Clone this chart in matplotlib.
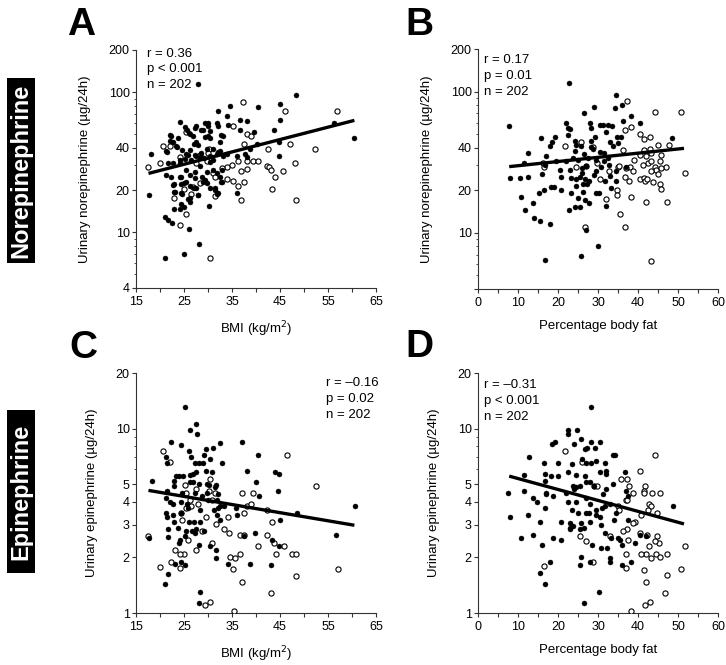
import matplotlib.pyplot as plt
from matplotlib.ticker import FixedLocator, LogLocator, NullFormatter
from matplotlib.patches import Rectangle

plt.rcParams['font.family'] = ['Liberation Sans', 'DejaVu Sans']

# Panel A: BMI vs urinary norepinephrine (filled / open subjects)
a_filled = [(28, 115), (48.4, 95), (45, 82), (34.6, 80), (40.4, 78), (32.1, 73), (45, 63), (56.3, 60),
            (34, 68), (36.7, 63), (24.1, 61), (25.3, 56), (29.3, 60), (27.6, 57), (30, 57), (32.1, 57),
            (30.4, 53), (26.9, 49), (26.2, 50), (28.5, 54), (30, 49), (22.3, 49), (23.7, 47), (33.2, 49),
            (39.5, 52), (43.8, 54), (38.1, 62), (60.5, 47), (22, 45), (23.4, 41), (21.3, 38), (18.1, 36),
            (17.7, 18.4), (40.2, 43), (44.7, 44), (37.7, 36), (44.7, 35), (36, 35), (31.8, 36), (33.9, 36),
            (31, 39), (32.5, 38), (25.5, 36), (27.6, 35), (28.6, 37), (29.1, 34), (30.4, 35), (26.5, 33),
            (24.1, 31), (22.7, 31), (21.6, 31), (21.3, 25.6), (22.3, 24.6), (24.4, 25), (25.5, 28),
            (27.2, 27), (28.3, 29.5), (29.7, 27), (31, 28), (32.5, 25), (32.9, 28), (23, 22), (23, 19.5),
            (24.4, 22), (25.5, 23), (24.4, 19), (26.2, 21.3), (27.6, 20.6), (27.9, 18.5), (29, 23),
            (29.7, 22.3), (30.4, 20.6), (31.4, 20), (32.1, 19), (32.9, 23), (24.4, 15.9), (24.1, 14.6),
            (23, 14.6), (26.2, 16.5), (26.2, 17.5), (30.2, 15.5), (36, 19), (21.1, 12.9), (21.6, 12.3),
            (22.6, 11.7), (26, 10.5), (28.1, 8.2), (21.1, 6.6), (25, 7.0),
            (25.6, 53.6), (26.1, 50.8), (27.3, 55.1), (29, 53.6), (30.1, 59.9), (29.4, 48), (30.4, 46.7),
            (27, 43), (27.6, 44.2), (28, 41.8), (26.2, 38.5), (25.9, 35.5), (25.2, 33.6), (24.2, 32.7),
            (29.7, 39.6), (32.1, 37.4), (32.5, 44.2), (32.8, 49.4), (31.8, 59.9), (34.2, 58.2),
            (36.7, 53.6), (22.1, 49.4), (22.8, 44.2), (23.5, 40.6), (21.5, 37.4), (24.5, 38.5),
            (27.3, 35.5), (28.3, 34.5), (30.4, 31.7), (31.1, 32.7), (33.2, 34.9), (38.1, 34.5),
            (38.8, 39.6), (24.2, 24.9), (26.2, 25.6), (27.3, 24.2), (28.7, 24.9), (29.4, 23.6),
            (31.8, 26.3), (32.8, 22.9), (22.8, 21.7), (24.9, 22.3), (27, 20.6), (28, 18.4), (23.1, 19.5),
            (24.5, 18.6), (25.9, 17.4), (24.9, 15.2), (31.5, 20.6), (31.8, 18.9)]
a_open = [(37.2, 85), (46.1, 73), (56.8, 73), (35.3, 57), (38.1, 50), (38.9, 49), (47, 43), (52.2, 39),
          (42.4, 39.5), (37.6, 43), (20.6, 41.5), (22, 41), (17.6, 29), (19.9, 31), (48.2, 31),
          (30.2, 39.5), (38.1, 32), (39.3, 32.5), (40.4, 32.5), (36.3, 32), (34.9, 30), (33.9, 29.4),
          (32.9, 28.7), (36.8, 27.5), (38.1, 28.1), (42.2, 29.6), (42.8, 29.4), (43.1, 28), (45.6, 27.2),
          (44, 25), (33.9, 24), (35.3, 23.2), (37.4, 23), (36.3, 21.5), (43.3, 20.4), (36.8, 16.9),
          (48.3, 16.9), (26.5, 18.9), (23, 17.5), (31.4, 18), (25.5, 13.6), (24.1, 11.2), (30.4, 6.5),
          (28.3, 22.5), (25.1, 20.4), (26.9, 21), (31, 26.5), (30, 36.7), (28.3, 35.5), (25.5, 52),
          (24.1, 34.7), (29.7, 32.5), (31.4, 25), (27.6, 31)]
a_fit_x = [17.6, 60.5]
a_fit_y = [26.3, 62.9]

# Panel B: percentage body fat vs urinary norepinephrine
b_filled = [(7.7, 57), (7.9, 24.3), (10.4, 24.6), (11.4, 31), (12.5, 37), (12.5, 25), (10.7, 18), (11.8, 14.5),
            (13.8, 16.2), (14, 12.7), (15.4, 12.1), (18.1, 11.6), (16.7, 6.4), (15.8, 47), (15.3, 19.2),
            (16.5, 20), (16.1, 26), (16.7, 30), (17.1, 35), (17.9, 41), (18.6, 44), (19.2, 48), (18.3, 21),
            (18.9, 21), (19.6, 32), (20.4, 28), (20.8, 25), (20.8, 20), (22.1, 32), (21.9, 60), (22.5, 55),
            (22.8, 115), (23.1, 54), (22.5, 49), (22.9, 28), (22.8, 14.5), (23.8, 34), (23.3, 24.5),
            (23.3, 19.2), (24.2, 45), (24.6, 42), (24.2, 38), (25, 32.5), (24.6, 24), (24.6, 21.6),
            (25, 17.5), (24.2, 15.3), (25.4, 15.3), (25.8, 6.8), (26.4, 71), (25.8, 41), (26.1, 28.6),
            (26.1, 26.5), (26.3, 22.3), (26.3, 19.6), (26.7, 17.2), (27.1, 10.4), (27.8, 16.2), (27.5, 34),
            (27.8, 23.3), (28.3, 55), (28.3, 45), (28.8, 39.5), (29, 78), (27.9, 60), (28.3, 40.6),
            (29.4, 27.6), (29.6, 19), (30.3, 19.2), (30, 8.1), (29.2, 48), (30.4, 58), (30.6, 37.5),
            (31.3, 58), (31.4, 36.6), (31.7, 23.3), (32.1, 52), (32.5, 58), (31.9, 15.5), (32.8, 30),
            (32.9, 44), (33.1, 25.2), (33.3, 20.6), (33.8, 41), (33.6, 57), (34.2, 76), (34.6, 23.3),
            (34.4, 95), (34.8, 48), (35, 43), (35.8, 48), (36.3, 62), (36, 80), (37.1, 29.3), (38.3, 67),
            (40.4, 60), (48.6, 47), (34.6, 27.5), (26.8, 24), (27.2, 22), (25.5, 25), (28.9, 25.5),
            (30.8, 29), (31.5, 32), (32.4, 34), (27, 29.5), (29.5, 33), (26.5, 36)]
b_open = [(37.3, 85), (44.2, 72), (50.7, 72), (38.3, 56), (36.8, 53), (40.4, 50), (41.4, 46), (43, 48),
          (44.9, 42), (47.7, 42), (21.7, 41), (25.8, 44), (28.8, 40.5), (36.3, 38.5), (40.4, 35.6),
          (41.6, 38.5), (42.9, 39.5), (43.3, 36.5), (45.8, 35.6), (42.1, 34.7), (42.5, 31), (43.3, 32),
          (41.2, 30.3), (45.6, 32), (47.1, 29.4), (45.8, 28.7), (44.2, 29), (44.6, 28), (43.3, 27.2),
          (38.9, 32.5), (38.1, 29.3), (37.1, 28.6), (35, 29.4), (38.8, 27.4), (40.4, 24), (41.6, 24.6),
          (41.8, 23.4), (42.2, 24), (44.9, 26), (45.4, 22), (43.8, 22.8), (45.8, 20.3), (51.7, 26.7),
          (37.8, 23.4), (36.8, 25), (35.3, 29.7), (29.8, 31), (24.6, 29), (26.9, 29.5), (30.4, 24),
          (32.1, 17.4), (34.8, 20.2), (34.8, 18.6), (38.3, 18), (42.1, 16.4), (47.3, 16.4), (35.4, 13.6),
          (26.8, 11), (36.7, 11), (43.2, 6.3), (16.2, 31), (16.4, 29), (32.7, 27.5)]
b_fit_x = [7.8, 51.5]
b_fit_y = [29.4, 39.6]

# Panel C: BMI vs urinary epinephrine
c_filled = [(25.3, 13.1), (27.4, 10.6), (26.3, 9.8), (27.7, 9.3), (22.3, 8.4), (24.4, 8.1), (37, 8.5),
            (32.5, 8.3), (29.5, 7.7), (31, 7.8), (26, 7.6), (26.5, 7), (29.1, 7.2), (30.5, 6.8), (40.5, 7.2),
            (21.3, 7), (21.4, 6.5), (33, 6.5), (27.2, 6.5), (28.2, 6.5), (28.9, 6.5), (29.5, 5.9),
            (30.8, 5.8), (27.6, 5.8), (26.2, 5.6), (26.9, 5.7), (38.1, 5.9), (44, 5.8), (44.7, 5.7),
            (23.3, 5.5), (24, 5.5), (24.7, 5.5), (22.9, 5.2), (23, 4.9), (18.3, 5.2), (26.2, 5.1),
            (26.9, 5.1), (28.2, 5), (29.7, 5), (30.3, 4.97), (31.4, 4.8), (31.6, 4.97), (40, 5.1),
            (21.4, 4.6), (24.6, 4.5), (27.2, 4.5), (29.7, 4.5), (32.1, 4.4), (40.7, 4.3), (44.5, 4.6),
            (21.2, 4.2), (24.4, 4), (28.8, 4.3), (30, 4.1), (31.9, 4.1), (22.1, 4), (22.8, 3.9), (25.6, 3.9),
            (25.8, 3.7), (31.3, 3.6), (32.1, 3.7), (32.5, 3.8), (33.3, 3.8), (21.3, 3.5), (22.7, 3.4),
            (24.4, 3.5), (28.3, 3.6), (31.9, 3.4), (36.1, 3.4), (48.6, 3.5), (60.6, 3.8), (21.5, 3.3),
            (23, 3.1), (26, 3.1), (27, 3.1), (28.3, 3.1), (32.5, 3.2), (45, 3.2), (21.6, 2.86), (23.7, 2.9),
            (25.5, 2.8), (26.7, 2.8), (27.5, 2.85), (29.2, 2.8), (21.6, 2.57), (17.7, 2.55), (24.1, 2.5),
            (25.3, 2.6), (27.2, 2.7), (37.6, 2.6), (39.8, 2.7), (56.6, 2.65), (43.3, 2.5), (44.7, 2.3),
            (30.4, 2.3), (28.1, 2.35), (31.6, 2.2), (24, 2.4), (23.2, 1.85), (25.3, 1.82), (24.4, 1.9),
            (34.2, 1.85), (38.8, 1.85), (43.1, 1.82), (21.6, 1.62), (21.1, 1.43), (28.3, 1.3), (28.1, 1.13),
            (31.6, 1.98), (35.8, 3.7)]
c_open = [(20.6, 7.6), (22, 6.6), (46.5, 7.2), (52.4, 4.9), (30.4, 5.3), (25.3, 4.97), (27.6, 4.7),
          (30.3, 4.6), (31.4, 4.5), (37, 4.5), (39.3, 4.5), (25.5, 4.5), (26.2, 4.1), (26.5, 3.8),
          (27.9, 3.9), (30.9, 4.1), (38.1, 3.8), (38.9, 3.9), (24.4, 3.5), (24.6, 3.2), (25.5, 3.7),
          (37.4, 3.5), (34.1, 3.3), (43.3, 3.1), (42.3, 3.6), (31.6, 3.03), (29.5, 3.3), (33.3, 2.85),
          (34.3, 2.7), (36.6, 2.65), (37.6, 2.65), (42.3, 2.65), (43.7, 2.4), (45.8, 2.3), (17.6, 2.6),
          (25.8, 2.5), (28.8, 2.8), (30.8, 2.4), (23.2, 2.2), (25.1, 2.1), (40.5, 2.3), (36.6, 2.1),
          (44.1, 2.1), (47.4, 2.1), (48.3, 2.1), (34.6, 2), (35.6, 1.98), (19.9, 1.78), (22.2, 1.89),
          (24.1, 1.75), (35.3, 1.73), (57.1, 1.74), (48.4, 1.58), (37, 1.48), (43.1, 1.29), (29.3, 1.1),
          (30.5, 1.15), (35.4, 1.03), (24.1, 2.1), (27.6, 2.2)]
c_fit_x = [17.6, 60.5]
c_fit_y = [4.62, 2.99]

# Panel D: percentage body fat vs urinary epinephrine
d_filled = [(28.2, 13.1), (22.5, 9.8), (22.5, 9.3), (24.8, 9.8), (25.7, 8.8), (28.2, 8.5), (30.4, 8.4),
            (18.5, 8.2), (19.2, 8.4), (24, 8.2), (26.7, 7.7), (27.3, 7.8), (29.3, 7.8), (33.8, 7.2),
            (34.3, 7.2), (12.7, 7), (16.5, 6.5), (20, 6.5), (23.5, 6.4), (26.1, 6.8), (26.9, 6.5),
            (28.2, 6.5), (29.6, 6.7), (31.7, 6.5), (32.1, 5.9), (32.1, 5.7), (36.7, 5.8), (22.5, 5.8),
            (16.7, 5.7), (26.7, 5.5), (24.6, 5.6), (30.4, 5.8), (11.5, 5.6), (18.3, 5.5), (20, 5.5),
            (16.8, 5.2), (23.8, 4.9), (24, 4.7), (24.6, 4.8), (25.4, 4.9), (26.9, 5.1), (27.9, 5.1),
            (28.9, 4.9), (32.1, 4.7), (33.8, 5), (37.1, 4.6), (37.5, 4.3), (11.4, 4.6), (7.5, 4.5),
            (17.1, 4.5), (17.1, 4.4), (22.1, 4.5), (13.8, 4.2), (14.8, 4), (18.8, 4.3), (22.5, 4),
            (24.6, 4), (27.1, 4.2), (27.9, 3.9), (31.3, 4.4), (31.8, 3.8), (33.1, 3.9), (34.6, 3.5),
            (25, 3.5), (27.1, 3.5), (27.7, 3.5), (29.4, 3.6), (16.7, 3.7), (23.5, 3.6), (29.6, 3.4),
            (30.4, 3.3), (31, 3.7), (12.5, 3.4), (7.9, 3.3), (15.4, 3.1), (20.7, 3.1), (23.1, 3.07),
            (25.8, 3.07), (30.8, 3), (34, 3.2), (37.5, 3.2), (23.1, 2.9), (25.4, 2.85), (28, 3.1),
            (13.8, 2.65), (10.7, 2.55), (16, 2.35), (18.8, 2.55), (20.8, 2.5), (23, 2.85), (23.8, 2.95),
            (26.4, 2.9), (31.7, 2.7), (33.3, 2.55), (35, 2.55), (35.4, 2.5), (39.2, 2.4), (40.4, 2.65),
            (41.9, 2.6), (28.6, 2.35), (30.7, 2.25), (32.2, 2.25), (36, 2.35), (25.8, 2), (27.9, 1.9),
            (25.6, 1.82), (33.1, 1.98), (33.1, 1.9), (36.1, 1.82), (38.3, 1.9), (17.9, 1.89), (15.4, 1.64),
            (16.7, 1.43), (30.2, 1.3), (26.5, 1.13), (48.8, 3.8)]
d_open = [(44.2, 7.2), (40.4, 5.9), (26, 6.6), (21.7, 7.6), (35.8, 5.3), (37.3, 5.3), (41.8, 4.9),
          (41.6, 4.6), (41.6, 4.5), (43.4, 4.5), (45.6, 4.5), (38.8, 4.5), (37, 4.1), (37.2, 4.1),
          (42.8, 3.9), (43.3, 3.8), (35, 3.8), (42.5, 3.6), (44.7, 3.5), (40.7, 3.4), (39.2, 3.1),
          (38.8, 3.07), (37.3, 2.85), (36.3, 2.8), (37.5, 2.5), (40.4, 2.7), (42.2, 2.65), (44.8, 2.6),
          (45.2, 2.4), (44.2, 2.45), (42.8, 2.3), (51.7, 2.3), (42.1, 2.1), (43.3, 1.98), (44.6, 2.1),
          (45.4, 2), (47.3, 2.1), (40.7, 2.1), (37, 2.1), (37, 1.75), (41.4, 1.72), (50.7, 1.74),
          (47.2, 1.6), (41.9, 1.48), (46.7, 1.29), (43, 1.15), (41.8, 1.1), (38.3, 1.03), (16.4, 1.8),
          (28.8, 1.9), (25.4, 2.6), (26.9, 2.45), (32.9, 2.6), (35.2, 3.6), (29, 4.9), (29.8, 4.9),
          (37.8, 4.9)]
d_fit_x = [7.8, 51.5]
d_fit_y = [5.52, 3.04]

stats_a = ['r = 0.36', 'p < 0.001', 'n = 202']
stats_b = ['r = 0.17', 'p = 0.01', 'n = 202']
stats_c = ['r = \u20130.16', 'p = 0.02', 'n = 202']
stats_d = ['r = \u20130.31', 'p < 0.001', 'n = 202']

ne_ticks = [4, 10, 20, 40, 100, 200]
e_ticks = [1, 2, 3, 4, 5, 10, 20]
bmi_ticks = [15, 25, 35, 45, 55, 65]
fat_ticks = [0, 10, 20, 30, 40, 50, 60]

W, H = 726, 665
fig = plt.figure(figsize=(W / 100, H / 100), dpi=100)


def px_axes(left, top, right, bottom):
    return fig.add_axes([left / W, 1 - bottom / H, (right - left) / W, (bottom - top) / H])


def draw_panel(ax, filled, opened, fit_x, fit_y, xlim, xticks, ylim, yticks, xlabel, ylabel,
               stats, sx, sy):
    fx, fy = zip(*filled)
    ox, oy = zip(*opened)
    ax.scatter(ox, oy, s=14, facecolors='white', edgecolors='black', linewidths=0.8, zorder=3)
    ax.scatter(fx, fy, s=13, c='black', edgecolors='black', linewidths=0.3, zorder=3)
    ax.plot(fit_x, fit_y, color='black', lw=2.4, solid_capstyle='butt', zorder=4)

    ax.set_yscale('log')
    ax.set_ylim(*ylim)
    ax.set_xlim(*xlim)
    ax.yaxis.set_major_locator(FixedLocator(yticks))
    ax.set_yticklabels([str(t) for t in yticks])
    ax.yaxis.set_minor_locator(LogLocator(base=10, subs=range(1, 10)))
    ax.yaxis.set_minor_formatter(NullFormatter())
    ax.xaxis.set_major_locator(FixedLocator(xticks))
    ax.set_xticklabels([str(t) for t in xticks])
    ax.xaxis.set_minor_locator(FixedLocator([t + 5 for t in xticks[:-1]]))

    for side in ['top', 'right']:
        ax.spines[side].set_visible(False)
    for side in ['left', 'bottom']:
        ax.spines[side].set_linewidth(0.8)
        ax.spines[side].set_color('#333333')
    ax.tick_params(axis='both', which='major', length=3, width=0.8, color='#333333',
                   labelsize=9, pad=1.5)
    ax.tick_params(axis='y', which='minor', length=1.6, width=0.6, color='#333333')
    ax.tick_params(axis='x', which='minor', length=3, width=0.8, color='#333333')
    ax.tick_params(axis='x', which='major', pad=3)
    ax.set_xlabel(xlabel, fontsize=9.5, labelpad=8)
    ax.set_ylabel(ylabel, fontsize=9.5, labelpad=13)
    ax.set_facecolor('none')

    for i, line in enumerate(stats):
        ax.text(sx, sy - i * 16 / 240, line, transform=ax.transAxes, fontsize=9.5,
                ha='left', va='center')


ax_a = px_axes(136, 50, 376, 288)
ax_b = px_axes(478, 49, 718, 289)
ax_c = px_axes(136, 373, 376, 613)
ax_d = px_axes(478, 373, 718, 613)

ne_label = 'Urinary norepinephrine (\u00b5g/24h)'
e_label = 'Urinary epinephrine (\u00b5g/24h)'
bmi_label = 'BMI (kg/m$^2$)'
fat_label = 'Percentage body fat'

draw_panel(ax_a, a_filled, a_open, a_fit_x, a_fit_y, (15, 65), bmi_ticks, (4, 200), ne_ticks,
           bmi_label, ne_label, stats_a, 0.046, 0.985)
draw_panel(ax_b, b_filled, b_open, b_fit_x, b_fit_y, (0, 60), fat_ticks, (4, 200), ne_ticks,
           fat_label, ne_label, stats_b, 0.025, 0.955)
ax_b.set_yticklabels(['', '10', '20', '40', '100', '200'])
draw_panel(ax_c, c_filled, c_open, c_fit_x, c_fit_y, (15, 65), bmi_ticks, (1, 20), e_ticks,
           bmi_label, e_label, stats_c, 0.79, 0.96)
draw_panel(ax_d, d_filled, d_open, d_fit_x, d_fit_y, (0, 60), fat_ticks, (1, 20), e_ticks,
           fat_label, e_label, stats_d, 0.025, 0.95)

# panel letters
for letter, x, y in [('A', 67, 35), ('B', 405, 35), ('C', 69, 358), ('D', 405, 357)]:
    fig.text(x / W, 1 - y / H, letter, fontsize=28, fontweight='bold', ha='left', va='baseline')

# row labels in black boxes
for name, top, bottom in [('Norepinephrine', 78, 263), ('Epinephrine', 410, 573)]:
    fig.patches.append(Rectangle((7 / W, 1 - bottom / H), 28 / W, (bottom - top) / H,
                                 transform=fig.transFigure, facecolor='black', edgecolor='none'))
    fig.text(21 / W, 1 - (top + bottom) / 2 / H, name, rotation=90, color='white',
             fontsize=17, fontweight='bold', ha='center', va='center')

fig.savefig('out.png', dpi=100, facecolor='white')
